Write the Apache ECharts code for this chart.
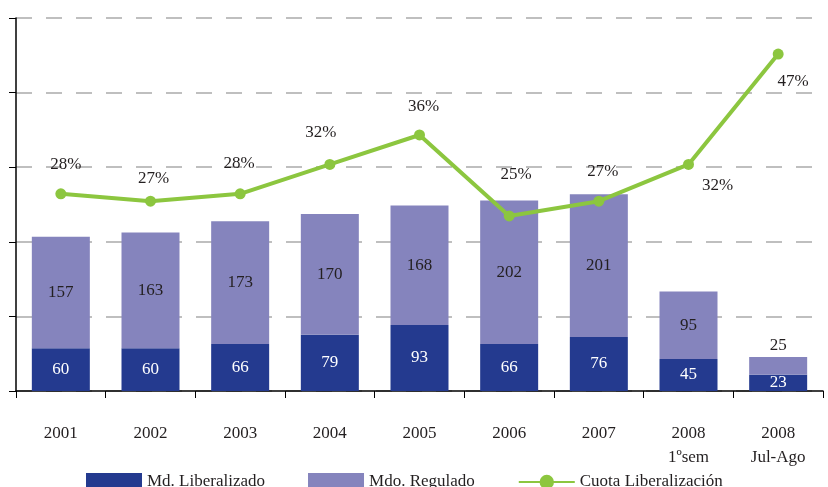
<!DOCTYPE html>
<html>
<head>
<meta charset="utf-8">
<script src="https://cdn.jsdelivr.net/npm/echarts@6/dist/echarts.min.js"></script>
<style>
html,body{margin:0;padding:0;background:#fff;}
#chart{width:828px;height:487px;}
</style>
</head>
<body>
<div id="chart"></div>
<script>
const categories = ['2001','2002','2003','2004','2005','2006','2007','2008\n1ºsem','2008\nJul-Ago'];
const liberalizado = [60,60,66,79,93,66,76,45,23];
const regulado = [157,163,173,170,168,202,201,95,25];
const cuota = [28,27,28,32,36,25,27,32,47];
// label offsets (styling only)
const cuotaLabelOffsets = [[5,-29],[3,-23],[-1,-30],[-9,-32],[4,-28],[7,-41],[4,-30],[29,21],[15,27]];

const serif = 'Liberation Serif';
const textColor = '#231f20';

const chart = echarts.init(document.getElementById('chart'), null, {renderer:'canvas'});
chart.setOption({
  animation:false,
  backgroundColor:'#fff',
  grid:{left:16,right:5,top:18,bottom:96,containLabel:false},
  legend:{
    left:81, top:468, itemWidth:56, itemHeight:18, itemGap:43,
    textStyle:{fontFamily:serif,fontSize:17,color:textColor},
    data:[{name:'Md. Liberalizado',icon:'rect'},{name:'Mdo. Regulado',icon:'rect'},{name:'Cuota Liberalización'}]
  },
  xAxis:{
    type:'category', data:categories, boundaryGap:true,
    axisLine:{lineStyle:{color:'#000',width:1.5}},
    axisTick:{show:true,length:7,lineStyle:{color:'#000',width:1}},
    axisLabel:{fontFamily:serif,fontSize:17,color:textColor,margin:31,lineHeight:24,interval:0}
  },
  yAxis:[{
    type:'value', min:0, max:525, interval:105,
    axisLine:{show:true,lineStyle:{color:'#000',width:1.5}},
    axisTick:{show:true,length:7,lineStyle:{color:'#000',width:1}},
    axisLabel:{show:false},
    splitLine:{show:true,lineStyle:{color:'#aaaaaa',width:1.5,type:[16,14]}}
  },{
    type:'value', min:1.2, max:51.9, show:false,
    splitLine:{show:false}
  }],
  series:[{
    name:'Md. Liberalizado', type:'bar', stack:'a', barWidth:58,
    itemStyle:{color:'#243a8f'},
    label:{show:true,position:'inside',fontFamily:serif,fontSize:17,color:'#fff'},
    data:liberalizado
  },{
    name:'Mdo. Regulado', type:'bar', stack:'a', barWidth:58,
    itemStyle:{color:'#8584bd'},
    label:{show:true,position:'inside',fontFamily:serif,fontSize:17,color:textColor},
    data:regulado.map(v => v < 40 ? {value:v,label:{position:'top',distance:3}} : v)
  },{
    name:'Cuota Liberalización', type:'line', yAxisIndex:1, z:5,
    symbol:'circle', symbolSize:11,
    lineStyle:{color:'#8cc63f',width:4},
    itemStyle:{color:'#8cc63f'},
    label:{show:true,position:'inside',fontFamily:serif,fontSize:17,color:textColor,formatter:'{c}%'},
    data:cuota.map((v,i) => ({value:v,label:{offset:cuotaLabelOffsets[i]}}))
  }]
});
</script>
</body>
</html>
